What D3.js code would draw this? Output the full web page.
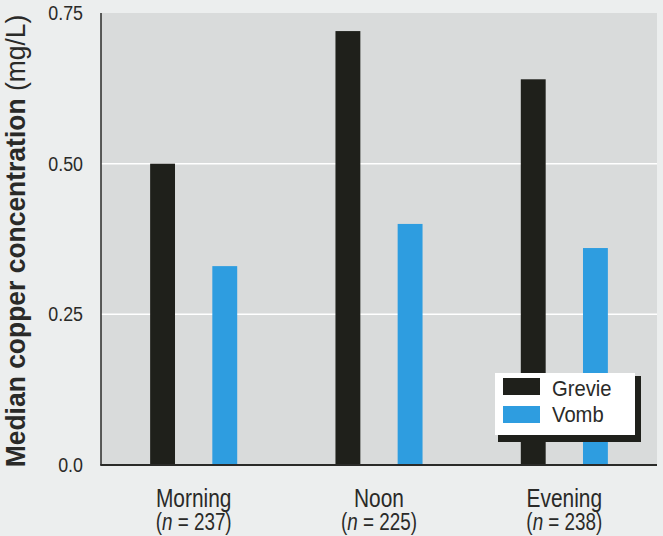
<!DOCTYPE html>
<meta charset="utf-8">
<script src="https://d3js.org/d3.v7.js"></script>
<style>
  body { margin: 0; background: #eceeee; }
  text { font-family: "Liberation Sans", Arial, sans-serif; fill: #2a2a28; }
</style>
<body>
<div id="chart"></div>
<script>
  // data
  const times = ["Morning", "Noon", "Evening"];
  const sizes = [237, 225, 238];
  const sites = ["Grevie", "Vomb"];
  const grevie = [0.50, 0.72, 0.64];
  const vomb = [0.33, 0.40, 0.36];
  const yTicks = [0, 0.25, 0.5, 0.75];

  const width = 663, height = 536;
  const margin = {top: 13, right: 6, bottom: 71, left: 101};
  const narrow = 0.82; // the print font is a condensed grotesque

  const svg = d3.select("#chart").append("svg")
      .attr("width", width)
      .attr("height", height);

  const x0 = d3.scaleBand()
      .domain(times)
      .range([margin.left, width - margin.right])
      .padding(0);

  const x1 = d3.scaleBand()
      .domain(sites)
      .range([0, x0.bandwidth()])
      .paddingInner(0.6)
      .paddingOuter(0.79);

  const y = d3.scaleLinear()
      .domain([0, 0.75])
      .range([height - margin.bottom, margin.top]);

  const color = d3.scaleOrdinal()
      .domain(sites)
      .range(["#1f201b", "#2e9de0"]);

  // plot background
  svg.append("rect")
      .attr("x", margin.left)
      .attr("y", margin.top)
      .attr("width", width - margin.right - margin.left)
      .attr("height", y(0) - margin.top)
      .attr("fill", "#d9dbdb");

  // white gridlines
  svg.append("g")
    .selectAll("line")
    .data(yTicks.filter(d => d > 0 && d < 0.75))
    .join("line")
      .attr("x1", margin.left)
      .attr("x2", width - margin.right)
      .attr("y1", d => y(d))
      .attr("y2", d => y(d))
      .attr("stroke", "#ffffff")
      .attr("stroke-width", 1.5);

  const rows = times.map((t, i) => ({time: t, values: [
    {site: "Grevie", v: grevie[i]},
    {site: "Vomb", v: vomb[i]}
  ]}));

  svg.append("g")
    .selectAll("g")
    .data(rows)
    .join("g")
      .attr("transform", d => `translate(${x0(d.time)},0)`)
    .selectAll("rect")
    .data(d => d.values)
    .join("rect")
      .attr("x", d => x1(d.site))
      .attr("width", x1.bandwidth())
      .attr("y", d => y(d.v))
      .attr("height", d => y(0) - y(d.v))
      .attr("fill", d => color(d.site));

  // axes lines
  svg.append("line")
      .attr("x1", margin.left).attr("x2", margin.left)
      .attr("y1", margin.top).attr("y2", y(0))
      .attr("stroke", "#2a2a28").attr("stroke-width", 1.5);
  svg.append("line")
      .attr("x1", margin.left - 0.75).attr("x2", width - margin.right)
      .attr("y1", y(0)).attr("y2", y(0))
      .attr("stroke", "#2a2a28").attr("stroke-width", 2);

  // y tick labels
  svg.append("g")
    .selectAll("text")
    .data(yTicks)
    .join("text")
      .attr("transform", d => `translate(83,${y(d) + 7}) scale(0.85,1)`)
      .attr("text-anchor", "end")
      .style("font-size", "21px")
      .text(d => d === 0 ? "0.0" : d3.format(".2f")(d));

  // x labels, two lines
  const cx = d => x0(d) + x0.bandwidth() / 2;
  svg.append("g")
    .selectAll("text")
    .data(times)
    .join("text")
      .attr("transform", d => `translate(${cx(d)},507) scale(${narrow},1)`)
      .attr("text-anchor", "middle")
      .style("font-size", "25.5px")
      .text(d => d);
  svg.append("g")
    .selectAll("text")
    .data(times)
    .join("text")
      .attr("transform", d => `translate(${cx(d)},530) scale(${narrow},1)`)
      .attr("text-anchor", "middle")
      .style("font-size", "23px")
      .html((d, i) => `(<tspan font-style="italic">n</tspan> = ${sizes[i]})`);

  // y axis title
  const yt = svg.append("text")
      .attr("transform", `translate(24.5,241) rotate(-90) scale(0.98,1)`)
      .attr("text-anchor", "middle")
      .style("font-size", "27px");
  yt.append("tspan").style("font-weight", "bold").text("Median copper concentration");
  yt.append("tspan").text(" (mg/L)");

  // legend
  const lg = svg.append("g").attr("transform", "translate(495,373)");
  lg.append("rect")
      .attr("x", 3).attr("y", 3)
      .attr("width", 143).attr("height", 66)
      .attr("fill", "#1f201b");
  lg.append("rect")
      .attr("width", 140).attr("height", 62)
      .attr("fill", "#ffffff");
  sites.forEach((s, i) => {
    lg.append("rect")
        .attr("x", 8).attr("y", 5 + i * 28)
        .attr("width", 37).attr("height", 17)
        .attr("fill", color(s));
    lg.append("text")
        .attr("transform", `translate(57,${23 + i * 26}) scale(0.92,1)`)
        .style("font-size", "22px")
        .text(s);
  });
</script>
</body>
